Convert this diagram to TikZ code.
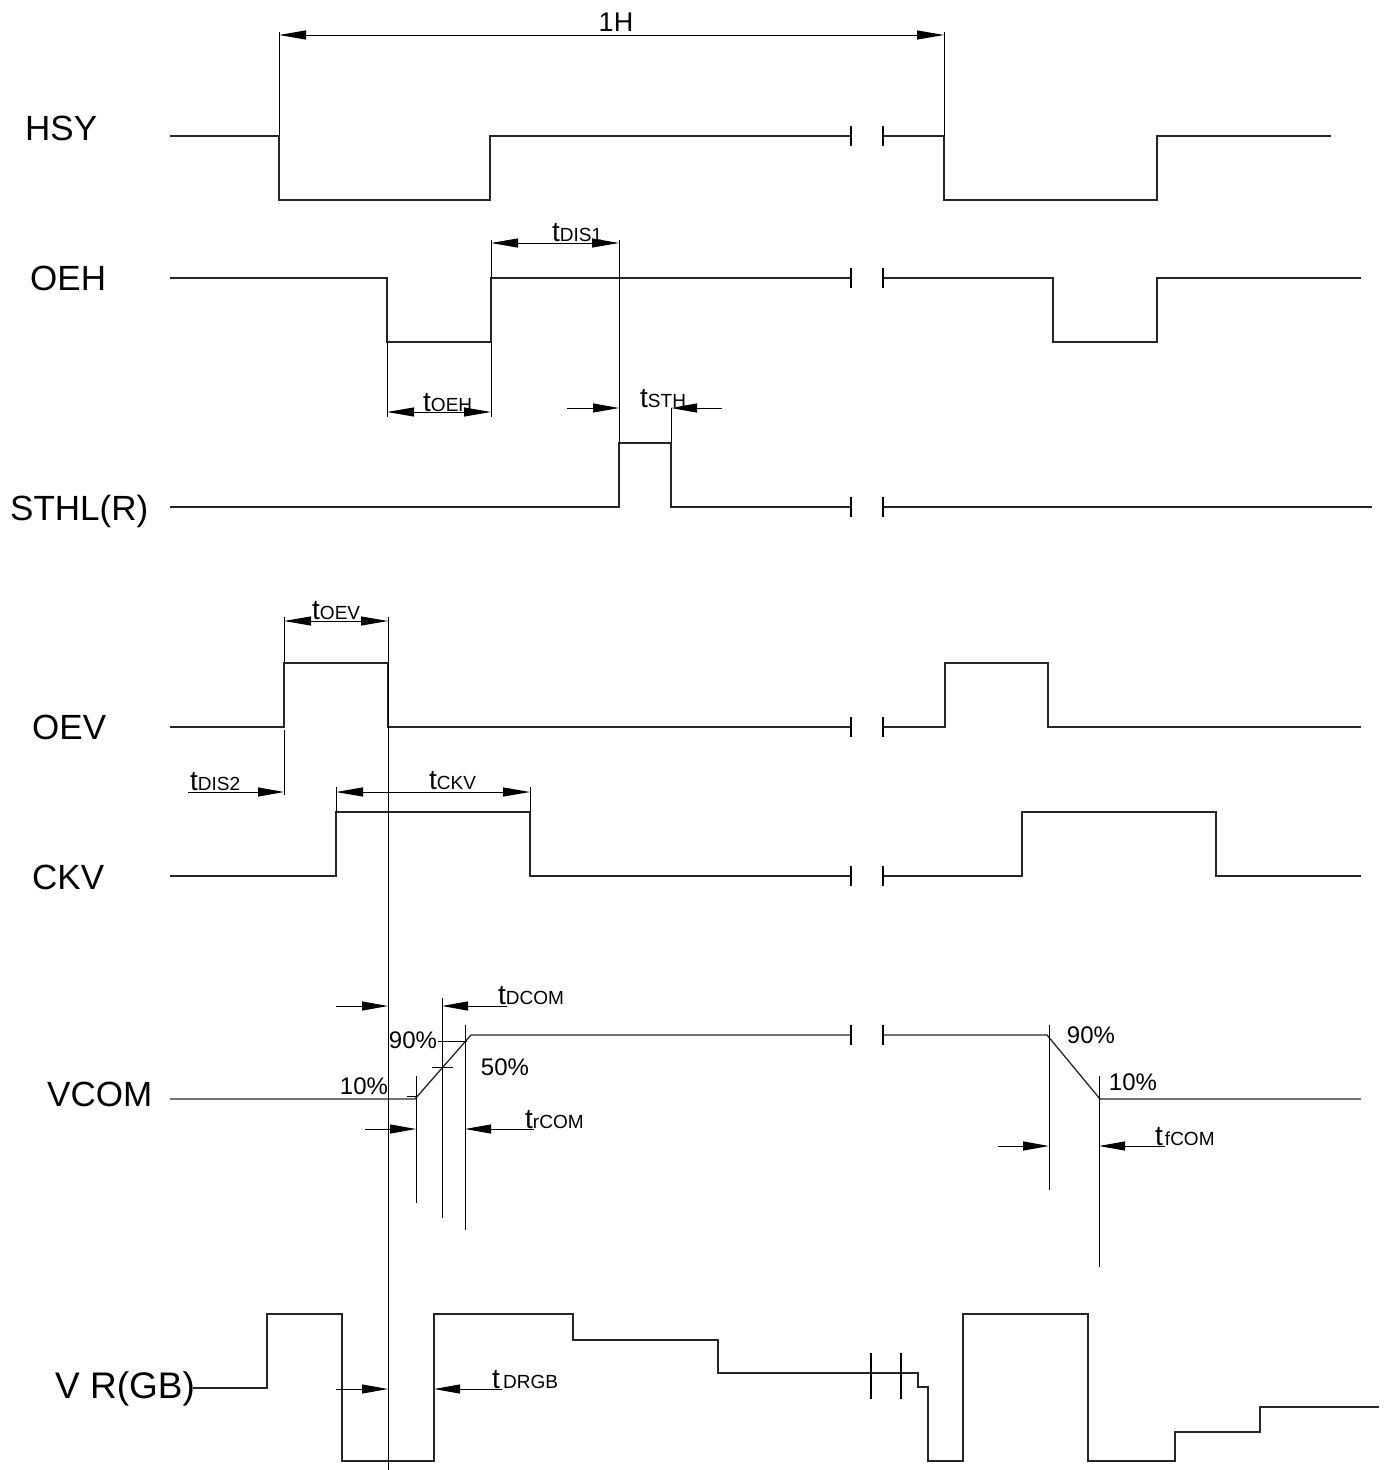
\documentclass[tikz,border=0pt]{standalone}
\usepackage{fontspec}
\setmainfont{Liberation Sans}
\usetikzlibrary{arrows.meta}
\newcommand\timelab[1]{{\fontsize{28}{28}\selectfont t}{\fontsize{19}{19}\selectfont #1}}
\begin{document}
\begin{tikzpicture}[x=1pt,y=-1pt,
 wave/.style={line width=1.3pt, draw=black!85},
 ext/.style={line width=1pt},
 brk/.style={line width=1.3pt},
 dimarr/.style={line width=1pt, {Triangle[length=27pt,width=9pt]}-{Triangle[length=27pt,width=9pt]}},
 onearr/.style={line width=1pt, -{Triangle[length=26pt,width=9pt]}},
 sig/.style={font=\fontsize{35}{35}\selectfont, anchor=base west, inner sep=0pt},
 tlab/.style={anchor=base west, inner sep=0pt},
 pct/.style={font=\fontsize{24}{24}\selectfont, inner sep=0pt}]
\useasboundingbox (0,0) rectangle (1385,1470);

% signal names
\node[sig] (hsy)  at (25,140)  {HSY};
\node[sig] (oeh)  at (30,290)  {OEH};
\node[sig] (sthl) at (10,520)  {STHL(R)};
\node[sig] (oev)  at (32,739)  {OEV};
\node[sig] (ckv)  at (32,889)  {CKV};
\node[sig] (vcom) at (47,1106) {VCOM};
\node[sig, font=\fontsize{37}{37}\selectfont] (vrgb) at (55,1398) {V R(GB)};

% waveforms
\draw[wave] (170,136) -- (279,136) -- (279,200) -- (490,200) -- (490,136) -- (851,136);
\draw[wave] (883,136) -- (944,136) -- (944,200) -- (1157,200) -- (1157,136) -- (1331,136);
\draw[wave] (170,278) -- (387,278) -- (387,342) -- (491,342) -- (491,278) -- (851,278);
\draw[wave] (883,278) -- (1053,278) -- (1053,342) -- (1157,342) -- (1157,278) -- (1361,278);
\draw[wave] (170,507) -- (619,507) -- (619,443) -- (671,443) -- (671,507) -- (851,507);
\draw[wave] (883,507) -- (1372,507);
\draw[wave] (170,727) -- (284,727) -- (284,663) -- (388,663) -- (388,727) -- (851,727);
\draw[wave] (883,727) -- (945,727) -- (945,663) -- (1048,663) -- (1048,727) -- (1361,727);
\draw[wave] (170,876) -- (336,876) -- (336,812) -- (530,812) -- (530,876) -- (851,876);
\draw[wave] (883,876) -- (1022,876) -- (1022,812) -- (1216,812) -- (1216,876) -- (1361,876);
\draw[wave] (170,1099) -- (415,1099) -- (471,1035) -- (851,1035);
\draw[wave] (883,1035) -- (1047,1035) -- (1100,1099) -- (1361,1099);
\draw[wave] (193,1388) -- (267,1388) -- (267,1314) -- (342,1314) -- (342,1461) -- (434,1461)
  -- (434,1314) -- (573,1314) -- (573,1340) -- (718,1340) -- (718,1373) -- (918,1373)
  -- (918,1387) -- (928,1387) -- (928,1461) -- (963,1461) -- (963,1314) -- (1088,1314)
  -- (1088,1461) -- (1175,1461) -- (1175,1432) -- (1260,1432) -- (1260,1407) -- (1379,1407);

% break marks
\foreach \yy in {136,278,507,727,876,1035}
  \draw[brk] (851,\yy-10) -- (851,\yy+10) (883,\yy-10) -- (883,\yy+10);
\draw[brk] (871,1353) -- (871,1399) (901,1353) -- (901,1399);

% 1H
\draw[ext] (279,32) -- (279,136) (944,32) -- (944,136);
\draw[dimarr] (279,35) -- (944,35);
\node[font=\fontsize{27}{27}\selectfont, inner sep=0pt] (oneh) at (616,22) {1H};

% tDIS1
\draw[ext] (491,240) -- (491,278) (619,240) -- (619,443);
\draw[dimarr] (491,243) -- (619,243);
\node[tlab] (tdis1) at (552,241) {\timelab{DIS1}};

% tOEH
\draw[ext] (387,342) -- (387,417) (491,342) -- (491,417);
\draw[dimarr] (387,412) -- (491,412);
\node[tlab] (toeh) at (423,411) {\timelab{OEH}};

% tSTH
\draw[onearr] (567,408) -- (619,408);
\draw[onearr] (722,408) -- (671,408);
\draw[ext] (671,408) -- (671,443);
\node[tlab] (tsth) at (640,407) {\timelab{STH}};

% tOEV and long reference line
\draw[ext] (284,617) -- (284,663);
\draw[ext] (388,617) -- (388,1470);
\draw[dimarr] (284,621) -- (388,621);
\node[tlab] (toev) at (312,619) {\timelab{OEV}};

% tDIS2
\draw[ext] (284,730) -- (284,795);
\draw[onearr] (188,792) -- (284,792);
\node[tlab] (tdis2) at (190,790) {\timelab{DIS2}};

% tCKV
\draw[ext] (336,787) -- (336,812) (530,787) -- (530,812);
\draw[dimarr] (336,792) -- (530,792);
\node[tlab] (tckv) at (429,789) {\timelab{CKV}};

% VCOM rising edge
\draw[onearr] (336,1006) -- (388,1006);
\draw[ext] (442,998) -- (442,1218);
\draw[onearr] (507,1006) -- (442,1006);
\node[tlab] (tdcom) at (498,1004) {\timelab{DCOM}};
\draw[ext] (438,1041) -- (467,1041) (432,1067) -- (453,1067) (407,1096) -- (417,1096);
\draw[ext] (416,1076) -- (416,1203) (465,1025) -- (465,1230);
\draw[onearr] (365,1129) -- (416,1129);
\draw[onearr] (534,1129) -- (465,1129);
\node[tlab] (trcom) at (525,1128) {\timelab{rCOM}};
\node[pct] (p90a) at (413,1040) {90\%};
\node[pct] (p50)  at (505,1067) {50\%};
\node[pct] (p10a) at (364,1086) {10\%};

% VCOM falling edge
\draw[ext] (1049,1025) -- (1049,1190) (1099,1076) -- (1099,1267);
\draw[onearr] (998,1146) -- (1049,1146);
\draw[onearr] (1165,1146) -- (1099,1146);
\node[tlab] (tfcom) at (1155,1145) {\timelab{\kern2pt fCOM}};
\node[pct] (p90b) at (1091,1035) {90\%};
\node[pct] (p10b) at (1133,1082) {10\%};

% tDRGB
\draw[onearr] (336,1389) -- (388,1389);
\draw[onearr] (502,1389) -- (434,1389);
\node[tlab] (tdrgb) at (492,1388) {\timelab{\,DRGB}};
\end{tikzpicture}
\end{document}
